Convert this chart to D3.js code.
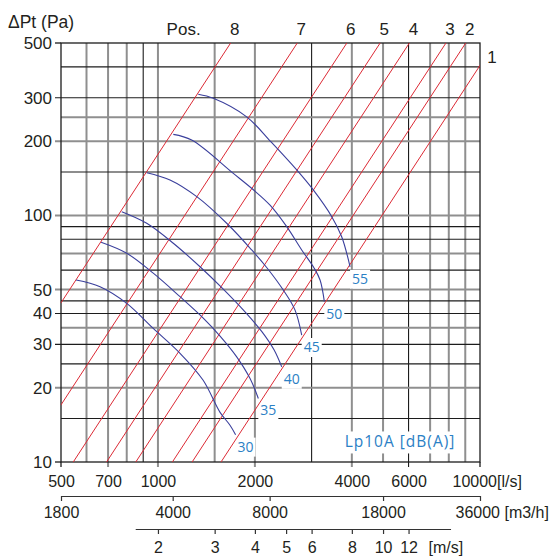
<!DOCTYPE html>
<html>
<head>
<meta charset="utf-8">
<script src="https://cdn.jsdelivr.net/npm/d3@7"></script>
<style>
  body { margin: 0; background: #fff; }
  svg text { font-family: "Liberation Sans", Arial, sans-serif; fill: #231f20; }
  svg text.blue { font-family: "Open Sans", "Noto Sans", sans-serif; fill: #2b80c5; }
</style>
</head>
<body>
<div id="chart"></div>
<script>
// grid + tick values
const flowGrid = [600, 700, 800, 900, 1000, 1500, 2000, 3000, 4000, 5000, 6000, 7000, 8000, 9000];
const flowGridDark = [900, 3000, 6000];
const flowTicks = [500, 700, 1000, 2000, 4000, 6000, 10000];
const pressGrid = [15, 20, 25, 30, 35, 40, 45, 50, 60, 70, 80, 90, 100, 150, 200, 250, 300, 400];
const pressGridGrey = [20, 35, 50, 70, 100, 200, 250];
const pressTicks = [10, 20, 30, 40, 50, 100, 200, 300, 500];
const m3hTicks = [1800, 4000, 8000, 18000, 36000];
const speedTicks = [2, 3, 4, 5, 6, 8, 10, 12];
const speedRange = [1.7, 16.2];

// damper positions: flow (l/s) where the system line crosses 100 Pa
const positions = ["8", "7", "6", "5", "4", "3", "2", "1"];
const posFlowAt100 = [752, 1211, 1726, 2190, 2699, 3506, 4038, 4965];

// sound level curves [l/s, Pa]
const levels = [30, 35, 40, 45, 50, 55];
const curve30 = [[557, 54.7], [661, 51.4], [800, 44.0], [967, 34.8], [1171, 27.6], [1380, 21.5], [1559, 15.9], [1674, 14.1], [1742, 12.9]];
const curve35 = [[666, 77.8], [800, 70.2], [967, 58.3], [1171, 46.8], [1380, 38.4], [1559, 32.4], [1756, 26.7], [1932, 21.8], [2050, 18.1]];
const curve40 = [[772, 103.5], [923, 92.9], [1116, 77.1], [1351, 61.9], [1581, 50.8], [1864, 40.6], [2105, 33.7], [2293, 28.5], [2423, 24.3]];
const curve45 = [[923, 149], [1090, 139.2], [1320, 119.1], [1635, 92.9], [1955, 72.4], [2182, 61.2], [2450, 49.8], [2665, 41.3], [2795, 32.7]];
const curve50 = [[1116, 213], [1273, 202], [1714, 148], [1978, 127], [2229, 110], [2511, 90], [2795, 72.4], [3053, 61.2], [3187, 54.7], [3286, 44.7]];
const curve55 = [[1334, 310], [1486, 298.5], [1886, 251], [2245, 198.5], [2697, 152.8], [3036, 126.8], [3465, 98.8], [3720, 81.9], [3950, 61.9]];
const curves = [curve30, curve35, curve40, curve45, curve50, curve55];

const W = 555, H = 557;
const svg = d3.select("#chart").append("svg")
    .attr("width", W)
    .attr("height", H);

const x = d3.scaleLog().domain([500, 10000]).range([61, 480]);
const y = d3.scaleLog().domain([10, 500]).range([462, 43]);
const [xL, xR] = x.range();
const [yB, yT] = y.range();

const DARK = "#1c1c1c", GREY = "#8f8f8f";

//grid, grey lines first then the dark ones on top
const grid = svg.append("g");
const vLines = flowGrid.slice().sort((a, b) => flowGridDark.includes(a) - flowGridDark.includes(b));
grid.selectAll("line.v")
    .data(vLines)
    .join("line")
    .attr("x1", d => x(d)).attr("x2", d => x(d))
    .attr("y1", yT)
    .attr("y2", d => flowTicks.includes(d) ? yB + 5 : yB)
    .attr("stroke", d => flowGridDark.includes(d) ? DARK : GREY)
    .attr("stroke-width", d => flowGridDark.includes(d) ? 1.1 : 2);

const hLines = pressGrid.slice().sort((a, b) => !pressGridGrey.includes(a) - !pressGridGrey.includes(b));
grid.selectAll("line.h")
    .data(hLines)
    .join("line")
    .attr("y1", d => y(d)).attr("y2", d => y(d))
    .attr("x1", d => pressTicks.includes(d) ? xL - 6 : xL)
    .attr("x2", xR)
    .attr("stroke", d => pressGridGrey.includes(d) ? GREY : DARK)
    .attr("stroke-width", d => pressGridGrey.includes(d) ? 2 : 1.1);

// frame + its ticks
grid.append("rect")
    .attr("x", xL).attr("y", yT)
    .attr("width", xR - xL).attr("height", yB - yT)
    .attr("fill", "none").attr("stroke", DARK).attr("stroke-width", 1.3);
grid.selectAll("line.fy")
    .data([10, 500])
    .join("line")
    .attr("x1", xL - 6).attr("x2", xL)
    .attr("y1", d => y(d)).attr("y2", d => y(d))
    .attr("stroke", DARK).attr("stroke-width", 1.3);
grid.selectAll("line.fx")
    .data([500, 10000])
    .join("line")
    .attr("x1", d => x(d)).attr("x2", d => x(d))
    .attr("y1", yB).attr("y2", yB + 5)
    .attr("stroke", DARK).attr("stroke-width", 1.3);

const boxes = svg.append("g");

// system lines dp ~ q^2
svg.append("clipPath").attr("id", "plotclip")
    .append("rect")
    .attr("x", xL).attr("y", yT)
    .attr("width", xR - xL).attr("height", yB - yT);

const sysLine = q100 => [
    [q100 * Math.sqrt(10 / 100), 10],
    [q100 * Math.sqrt(500 / 100), 500]
];
const lineGen = d3.line().x(d => x(d[0])).y(d => y(d[1]));

svg.append("g")
    .attr("clip-path", "url(#plotclip)")
    .selectAll("path")
    .data(posFlowAt100)
    .join("path")
    .attr("d", d => lineGen(sysLine(d)))
    .attr("fill", "none")
    .attr("stroke", "#dc2a35")
    .attr("stroke-width", 1);

// sound curves
const curveGen = d3.line()
    .x(d => x(d[0]))
    .y(d => y(d[1]))
    .curve(d3.curveCatmullRom);

svg.append("g")
    .selectAll("path")
    .data(curves)
    .join("path")
    .attr("d", curveGen)
    .attr("fill", "none")
    .attr("stroke", "#3a3f9c")
    .attr("stroke-width", 1.1);

// labels at the end of each curve
const labels = svg.append("g");
curves.forEach((c, i) => {
    const last = c[c.length - 1];
    labels.append("text")
        .attr("class", "blue")
        .attr("x", x(last[0]) + 10)
        .attr("y", y(last[1]) + 12)
        .attr("dy", "0.35em")
        .attr("text-anchor", "middle")
        .attr("font-size", 14)
        .text(levels[i]);
});
labels.append("text")
    .attr("class", "blue")
    .attr("x", x(3800))
    .attr("y", y(12.05))
    .attr("dy", "0.35em")
    .attr("font-size", 15.5)
    .attr("letter-spacing", 1)
    .text("Lp10A [dB(A)]");

labels.selectAll("text").each(function() {
    const b = this.getBBox();
    boxes.append("rect")
        .attr("x", b.x - 2).attr("y", b.y + 1)
        .attr("width", b.width + 4).attr("height", b.height)
        .attr("fill", "#fff");
});

// y axis labels
svg.append("g")
    .selectAll("text")
    .data(pressTicks)
    .join("text")
    .attr("x", xL - 9)
    .attr("y", d => y(d))
    .attr("dy", "0.35em")
    .attr("text-anchor", "end")
    .attr("font-size", 17)
    .text(d => d);

svg.append("text")
    .attr("x", 8).attr("y", 22)
    .attr("dy", "0.35em")
    .attr("font-size", 17.5)
    .text("ΔPt (Pa)");

// position labels along the top
const posG = svg.append("g");
posFlowAt100.forEach((q, i) => {
    const qTop = q * Math.sqrt(500 / 100);
    if (qTop <= 10000) {
        posG.append("text")
            .attr("x", x(qTop) + 4)
            .attr("y", 29)
            .attr("dy", "0.35em")
            .attr("text-anchor", "middle")
            .attr("font-size", 17)
            .text(positions[i]);
    } else {
        const pR = 100 * Math.pow(10000 / q, 2);
        posG.append("text")
            .attr("x", xR + 12)
            .attr("y", y(pR) - 8)
            .attr("dy", "0.35em")
            .attr("text-anchor", "middle")
            .attr("font-size", 17)
            .text(positions[i]);
    }
});
posG.append("text")
    .attr("x", x(posFlowAt100[0] * Math.sqrt(5)) - 30)
    .attr("y", 29)
    .attr("dy", "0.35em")
    .attr("text-anchor", "end")
    .attr("font-size", 17)
    .text("Pos.");

// l/s axis
const axLs = svg.append("g")
    .attr("transform", `translate(0,${yB})`)
    .call(d3.axisBottom(x).tickValues(flowTicks).tickSize(0).tickPadding(14).tickFormat(d3.format("d")));
axLs.select(".domain").remove();

// m3/h axis
const xm3h = d3.scaleLog().domain([1800, 36000]).range(x.range());
const axM3h = svg.append("g")
    .attr("transform", "translate(0,496)")
    .call(d3.axisBottom(xm3h).tickValues(m3hTicks).tickSize(5).tickSizeOuter(0).tickPadding(6).tickFormat(d3.format("d")));

// m/s axis
const xms = d3.scaleLog().domain(speedRange).range(speedRange.map(v => x(v * 500)));
const axMs = svg.append("g")
    .attr("transform", "translate(0,529)")
    .call(d3.axisBottom(xms).tickValues(speedTicks).tickSize(5).tickSizeOuter(0).tickPadding(8).tickFormat(d3.format("d")));

[axLs, axM3h, axMs].forEach(ax => {
    ax.attr("font-family", null).attr("font-size", null);
    ax.selectAll("text").attr("font-size", 16).attr("fill", null);
    ax.selectAll("line").attr("stroke", "#333").attr("stroke-width", 1.2);
    ax.select(".domain").attr("stroke", "#333").attr("stroke-width", 1.2);
});

axLs.selectAll(".tick").filter(d => d === 10000).select("text")
    .attr("text-anchor", "start").attr("x", -28).text("10000[l/s]");
axM3h.selectAll(".tick").filter(d => d === 36000).select("text")
    .attr("text-anchor", "start").attr("x", -25).text("36000 [m3/h]");
axMs.append("text")
    .attr("x", xms(12) + 20)
    .attr("y", 13)
    .attr("dy", "0.71em")
    .attr("text-anchor", "start")
    .attr("font-size", 16)
    .text("[m/s]");
</script>
</body>
</html>
